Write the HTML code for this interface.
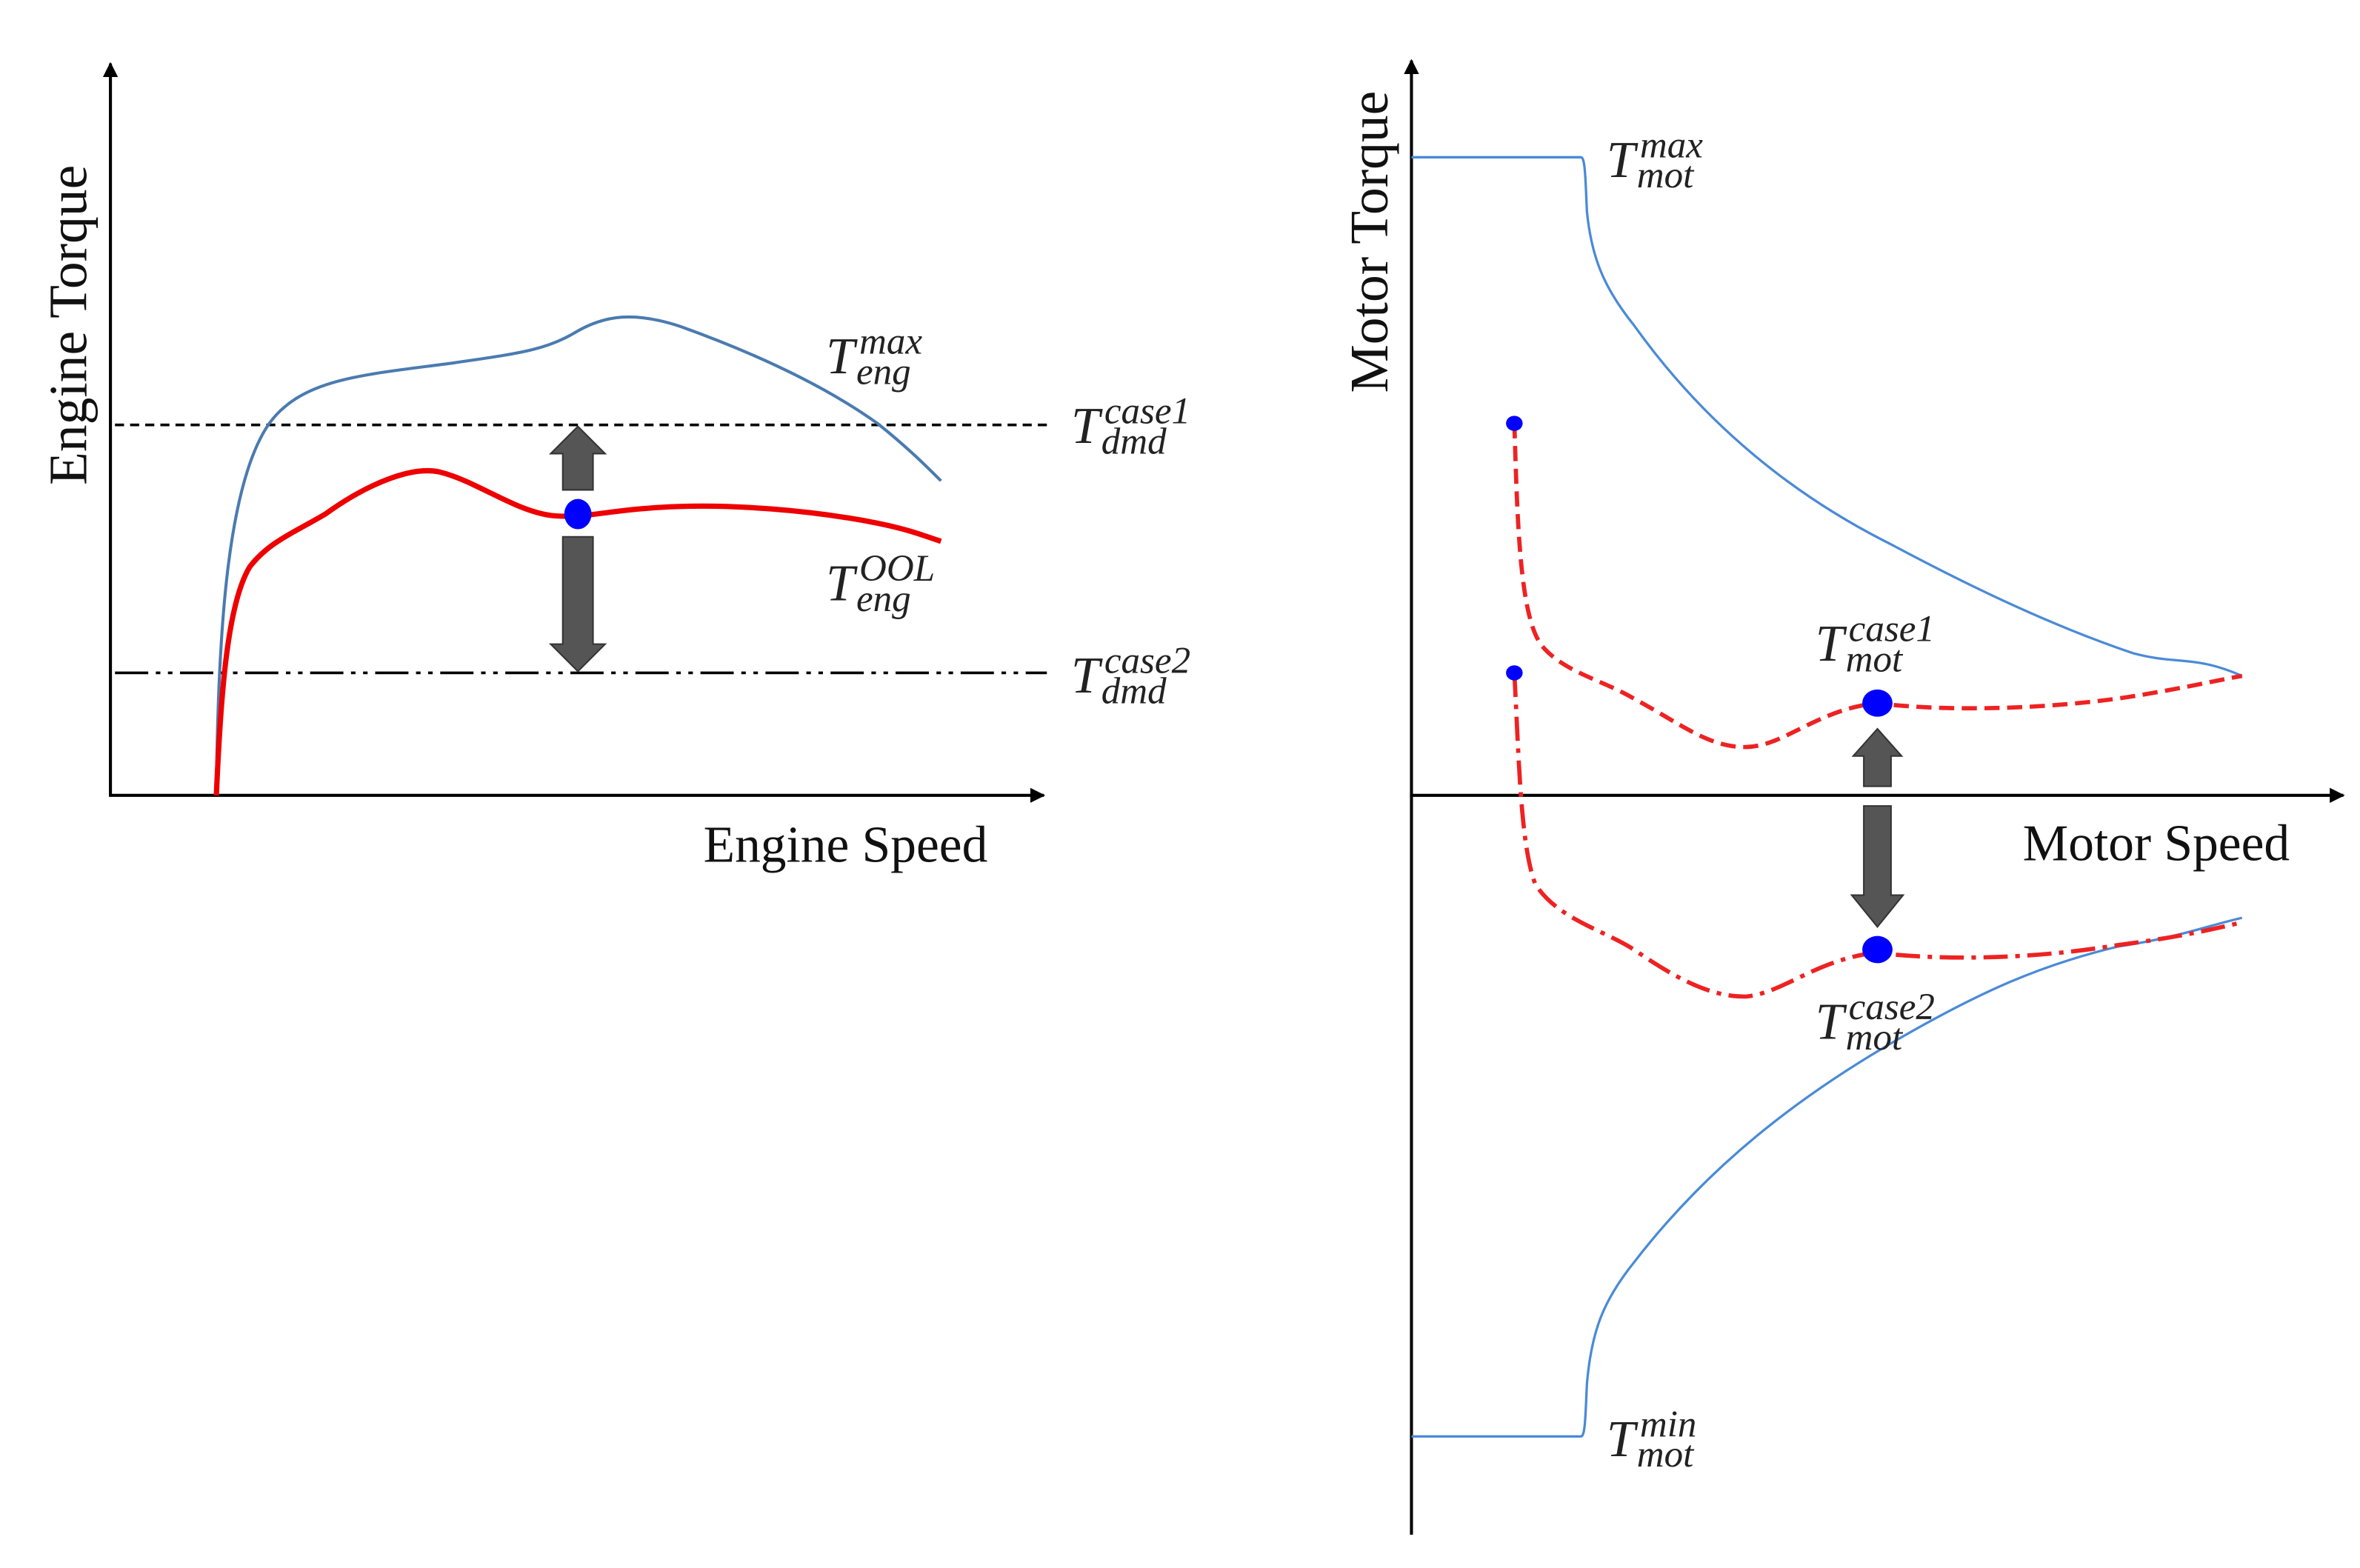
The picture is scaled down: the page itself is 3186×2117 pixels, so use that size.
<!DOCTYPE html>
<html><head><meta charset="utf-8"><style>
html,body{margin:0;padding:0;background:#fff;}
svg{display:block;}
.lbl{font-family:"Liberation Serif",serif;font-style:italic;fill:#222;}
.ax{font-family:"Liberation Serif",serif;fill:#111;}
</style></head><body>
<svg width="3186" height="2117" viewBox="0 0 1560 1037" preserveAspectRatio="none" xmlns="http://www.w3.org/2000/svg">
<defs>
<marker id="ah" markerWidth="10" markerHeight="10" refX="9" refY="5" orient="auto" markerUnits="userSpaceOnUse"><path d="M0,0 L10,5 L0,10 z" fill="#000"/></marker>
</defs>
<!-- LEFT PLOT -->
<line x1="73" y1="526" x2="73" y2="42" stroke="#000" stroke-width="2" marker-end="url(#ah)"/>
<line x1="72" y1="526" x2="690" y2="526" stroke="#000" stroke-width="2" marker-end="url(#ah)"/>
<line x1="76" y1="281" x2="692" y2="281" stroke="#000" stroke-width="1.8" stroke-dasharray="6,4"/>
<line x1="76" y1="445" x2="692" y2="445" stroke="#000" stroke-width="1.8" stroke-dasharray="22,5,3,5,3,5"/>
<path d="M143,526 C144,420 150,320 178,280 C200,250 240,248 300,240 C340,234 360,232 380,220 C400,208 420,206 450,216 C500,234 545,255 580,280 C600,296 612,308 622,318" fill="none" stroke="#4a7bb0" stroke-width="2"/>
<path d="M143,526 C146,460 150,400 165,375 C178,358 195,352 215,340 C240,322 270,308 290,312 C315,318 340,338 365,341 C385,343 400,338 430,336 C480,332 540,338 580,346 C600,350 610,354 622,358" fill="none" stroke="#e00" stroke-width="3.5"/>
<polygon points="382,282 400,300 392,300 392,324 372,324 372,300 364,300" fill="#555" stroke="#333" stroke-width="1"/>
<polygon points="372,355 392,355 392,426 400,426 382,444 364,426 372,426" fill="#555" stroke="#333" stroke-width="1"/>
<ellipse cx="382" cy="340" rx="9" ry="10" fill="#00f"/>
<text class="ax" font-size="36" transform="translate(57,215) rotate(-90)" text-anchor="middle">Engine Torque</text>
<text class="ax" font-size="34" x="465" y="570">Engine Speed</text>

<g class="lbl">
<text x="546" y="247" font-size="34">T</text><text x="568" y="234" font-size="25">max</text><text x="566" y="254" font-size="25">eng</text>
<text x="708" y="293" font-size="34">T</text><text x="730" y="280" font-size="25">case1</text><text x="728" y="300" font-size="25">dmd</text>
<text x="546" y="397" font-size="34">T</text><text x="568" y="384" font-size="25">OOL</text><text x="566" y="404" font-size="25">eng</text>
<text x="708" y="458" font-size="34">T</text><text x="730" y="445" font-size="25">case2</text><text x="728" y="465" font-size="25">dmd</text>
</g>
<!-- RIGHT PLOT -->
<line x1="933" y1="1015" x2="933" y2="40" stroke="#000" stroke-width="2" marker-end="url(#ah)"/>
<line x1="932" y1="526" x2="1549" y2="526" stroke="#000" stroke-width="2" marker-end="url(#ah)"/>
<path d="M933,104 L1045,104 C1048,104 1048,120 1049,140 C1052,170 1060,190 1080,215 C1130,285 1190,330 1250,360 C1310,392 1360,415 1410,432 C1440,440 1450,433 1482,447" fill="none" stroke="#4a8ad8" stroke-width="1.6"/>
<path d="M933,950 L1045,950 C1048,950 1048,935 1049,915 C1052,880 1060,860 1080,835 C1130,770 1190,725 1250,690 C1310,655 1350,638 1400,626 C1440,620 1460,612 1482,607" fill="none" stroke="#4a8ad8" stroke-width="1.6"/>
<path d="M1001,280 C1003,340 1004,410 1020,428 C1035,445 1060,450 1080,462 C1110,478 1130,495 1155,494 C1180,493 1200,470 1240,465 C1280,470 1340,470 1400,462 C1440,456 1465,450 1482,447" fill="none" stroke="#e22" stroke-width="2.8" stroke-dasharray="10,5"/>
<path d="M1001,445 C1004,500 1005,560 1015,585 C1030,608 1060,615 1080,628 C1105,645 1130,660 1155,659 C1180,656 1200,635 1240,630 C1280,635 1340,635 1400,625 C1440,620 1465,614 1482,610" fill="none" stroke="#e22" stroke-width="2.8" stroke-dasharray="16,5,3,5"/>
<polygon points="1241,482 1257,500 1250,500 1250,520 1232,520 1232,500 1225,500" fill="#555" stroke="#333" stroke-width="1"/>
<polygon points="1232,533 1250,533 1250,592 1258,592 1241,613 1224,592 1232,592" fill="#555" stroke="#333" stroke-width="1"/>
<ellipse cx="1241" cy="465" rx="10" ry="9" fill="#00f"/>
<ellipse cx="1241" cy="628" rx="10" ry="9" fill="#00f"/>
<ellipse cx="1001" cy="280" rx="5.5" ry="5" fill="#00f"/>
<ellipse cx="1001" cy="445" rx="5.5" ry="5" fill="#00f"/>
<text class="ax" font-size="36" transform="translate(917,160) rotate(-90)" text-anchor="middle">Motor Torque</text>
<text class="ax" font-size="34" x="1337" y="569">Motor Speed</text>
<g class="lbl">
<text x="1062" y="117" font-size="34">T</text><text x="1084" y="104" font-size="25">max</text><text x="1082" y="124" font-size="25">mot</text>
<text x="1200" y="437" font-size="34">T</text><text x="1222" y="424" font-size="25">case1</text><text x="1220" y="444" font-size="25">mot</text>
<text x="1200" y="687" font-size="34">T</text><text x="1222" y="674" font-size="25">case2</text><text x="1220" y="694" font-size="25">mot</text>
<text x="1062" y="963" font-size="34">T</text><text x="1084" y="950" font-size="25">min</text><text x="1082" y="970" font-size="25">mot</text>
</g>
</svg>
</body></html>
